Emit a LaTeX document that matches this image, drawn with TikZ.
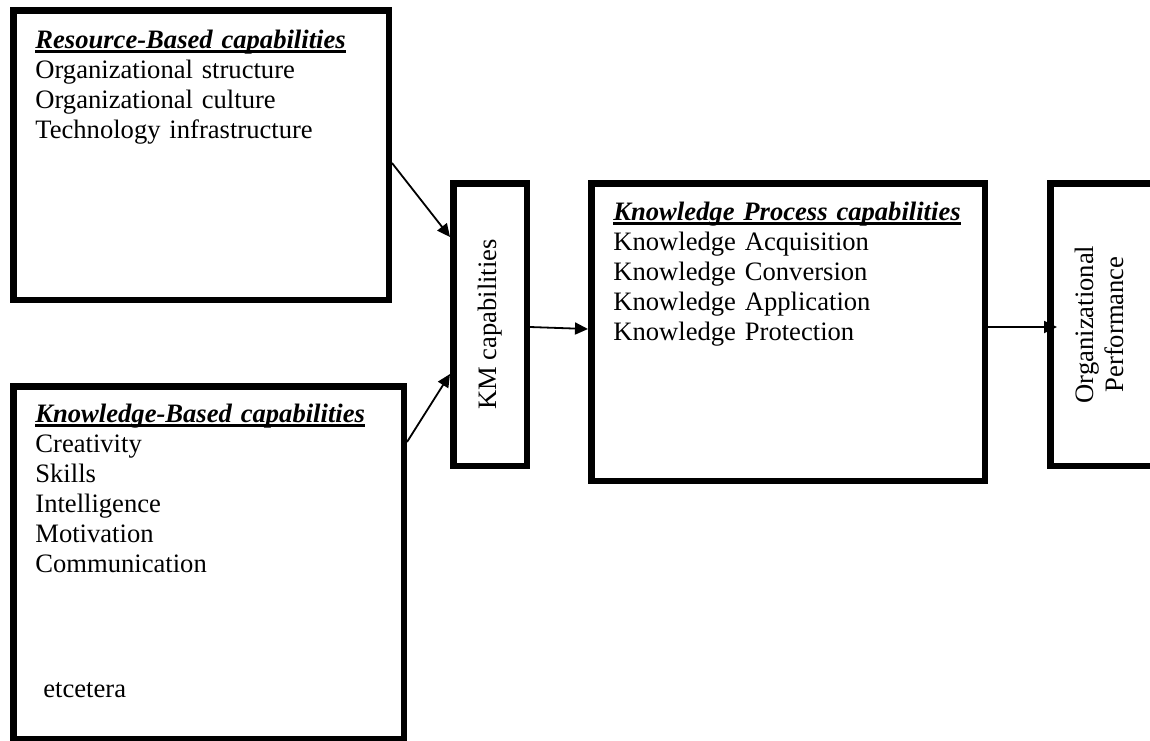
\documentclass[tikz,border=0pt]{standalone}
\usepackage{fontspec}
\setmainfont{Liberation Serif}
\usepackage{tikz}
\usetikzlibrary{arrows.meta}
\newsavebox\hdrbox
\newcommand\hdr[1]{\sbox\hdrbox{\bfseries\itshape #1}\usebox\hdrbox\llap{\rule[-2.4pt]{\wd\hdrbox}{1.2pt}}}

\begin{document}
\begin{tikzpicture}[x=0.5pt,y=-0.5pt,
	every node/.style={font=\fontsize{13.3}{15}\selectfont},
	box/.style={draw,line width=3.25pt,inner sep=0pt},
	txt/.style={anchor=base west,inner sep=0pt,text width=190pt,align=left},
	link/.style={line width=0.9pt,-{Triangle[length=6.5pt,width=6pt]}}]
					\useasboundingbox (0,0) rectangle (1150,740);
					\clip (0,0) rectangle (1150,740);
					\node[box,minimum width=187.75pt,minimum height=144.75pt] (rb) at (201,155) {};
					\node[box,minimum width=195.25pt,minimum height=176.25pt] (kb) at (208.5,562.5) {};
					\node[box,minimum width=36.75pt,minimum height=141.25pt] (km) at (490,324.5) {\rotatebox{90}{KM capabilities}};
					\node[box,minimum width=196.75pt,minimum height=148.75pt] (kp) at (788,332) {};
					\node[box,minimum width=51.75pt,minimum height=141.25pt] (op) at (1102,324.5)
						{\rotatebox{90}{\begin{tabular}{@{}c@{}}Organizational\\Performance\end{tabular}}};
					\node[txt] (rbtext) at (35,48) {\hdr{Resource-Based capabilities}\\Organizational structure\\Organizational culture\\Technology infrastructure};
					\node[txt] (kbtext) at (35,422) {\hdr{Knowledge-Based capabilities}\\Creativity\\Skills\\Intelligence\\Motivation\\Communication\\[47.5pt]\hspace*{4pt}etcetera};
					\node[txt] (kptext) at (613,220) {\hdr{Knowledge Process capabilities}\\Knowledge Acquisition\\Knowledge Conversion\\Knowledge Application\\Knowledge Protection};
					\coordinate (optip) at ([xshift=5pt]op.west);
					\draw[link] (rb.east |- 0,163)--(km.west |- 0,237);
					\draw[link] (kb.east |- 0,442)--(km.west |- 0,374);
					\draw[link] (km.east |- 0,327)--(kp.west |- 0,329);
					\draw[link] (kp.east |- 0,327)--(optip |- 0,327);
				\end{tikzpicture}
\end{document}
